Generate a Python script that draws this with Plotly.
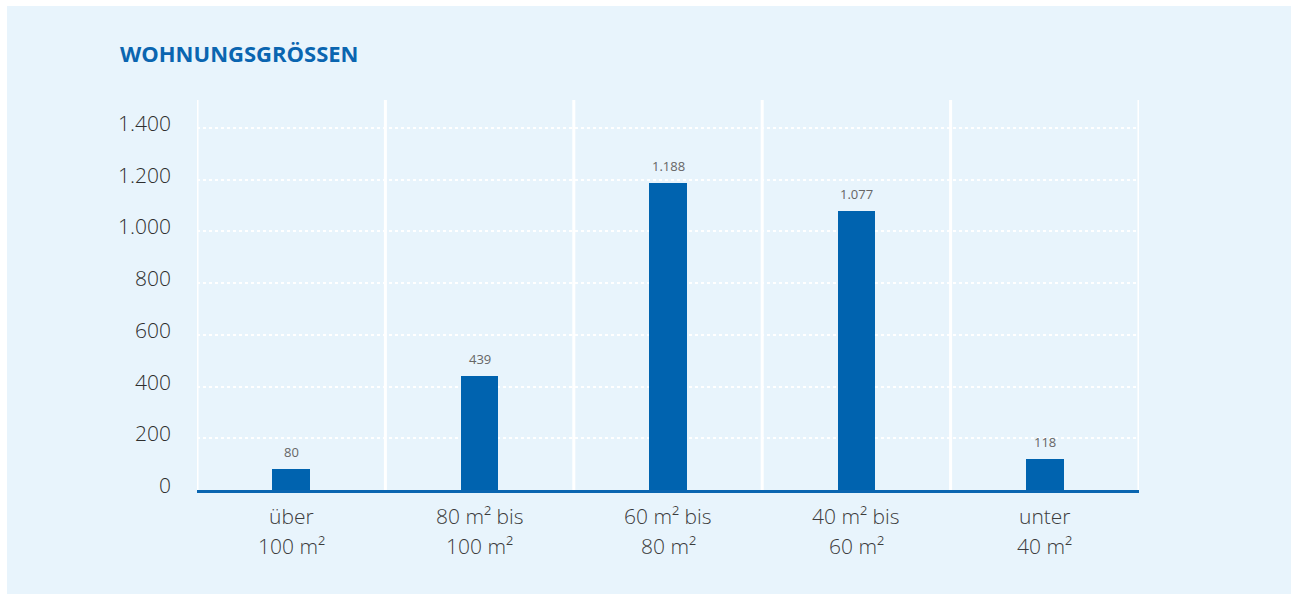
import plotly.graph_objects as go

cat_line1 = ["über", "80 m² bis", "60 m² bis", "40 m² bis", "unter"]
cat_line2 = ["100 m²", "100 m²", "80 m²", "60 m²", "40 m²"]
values = [80, 439, 1188, 1077, 118]
y_ticks = [0, 200, 400, 600, 800, 1000, 1200, 1400]
title_text = "WOHNUNGSGRÖSSEN"

W, H = 1291, 594
ML, MR, MT, MB = 197, 152, 100, 104
BLUE = "#0063AF"
BG = "#E8F4FC"
FONT = "Open Sans"


def de(n):
    return f"{n:,}".replace(",", ".")


xs = list(range(len(values)))

fig = go.Figure()
fig.add_trace(go.Bar(
    x=xs, y=values, width=0.2, marker=dict(color=BLUE, line=dict(width=0)),
    hoverinfo="skip",
))

annotations = []
# value labels
for x, v in zip(xs, values):
    annotations.append(dict(
        x=x, y=v, xref="x", yref="y", text=de(v),
        showarrow=False, yanchor="bottom", yshift=6,
        font=dict(family=FONT, size=13, color="#666666", weight=400),
    ))
# category labels (two lines)
for x, l1, l2 in zip(xs, cat_line1, cat_line2):
    annotations.append(dict(x=x, y=0, xref="x", yref="paper", text=l1, showarrow=False,
                            yanchor="middle", yshift=-26,
                            font=dict(family=FONT, size=21, color="#3c3c3c", weight=300)))
    annotations.append(dict(x=x, y=0, xref="x", yref="paper", text=l2, showarrow=False,
                            yanchor="middle", yshift=-56,
                            font=dict(family=FONT, size=21, color="#3c3c3c", weight=300)))
# y tick labels
for t in y_ticks:
    annotations.append(dict(x=0, y=t, xref="paper", yref="y", text=de(t), showarrow=False,
                            xanchor="right", yanchor="middle", xshift=-24, yshift=5,
                            font=dict(family=FONT, size=21, color="#2e2e2e", weight=300)))

PH = H - MT - MB
shapes = [
    dict(type="rect", xref="paper", yref="paper", x0=-ML / (W - ML - MR), x1=-(ML - 7) / (W - ML - MR),
         y0=-2, y1=2, fillcolor="white", line=dict(width=0), layer="below"),
    dict(type="rect", xref="paper", yref="paper", x0=-1, x1=2,
         y0=1 + (MT - 6) / PH, y1=1 + (MT + 10) / PH,
         fillcolor="white", line=dict(width=0), layer="below"),
]
for i in range(len(values) + 1):
    shapes.append(dict(type="line", xref="x", yref="paper", x0=i - 0.5, x1=i - 0.5,
                       y0=0, y1=1, line=dict(color="white", width=3), layer="below"))

fig.update_layout(
    width=W, height=H,
    margin=dict(l=ML, r=MR, t=MT, b=MB),
    paper_bgcolor=BG, plot_bgcolor=BG,
    showlegend=False,
    bargap=0,
    title=dict(text=f"<b>{title_text}</b>", x=120 / W, xanchor="left", xref="container",
               y=1 - 54 / H, yanchor="middle", yref="container",
               font=dict(family=FONT, size=22, color="#0A65B0")),
    xaxis=dict(
        range=[-0.5, len(values) - 0.5],
        showticklabels=False, ticks="",
        showgrid=False, zeroline=False,
        showline=True, linecolor="#0A65B0", linewidth=3,
        fixedrange=True,
    ),
    yaxis=dict(
        range=[0, 1508],
        tickmode="array", tickvals=y_ticks, showticklabels=False, ticks="",
        showgrid=True, gridcolor="white", griddash="dot", gridwidth=2,
        zeroline=False, showline=False,
        fixedrange=True,
    ),
    annotations=annotations,
    shapes=shapes,
)

fig.write_html("out.html")
